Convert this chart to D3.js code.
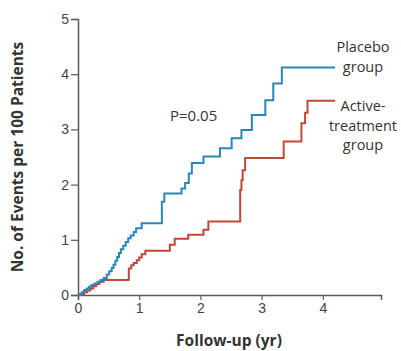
<!DOCTYPE html>
<html>
<head>
<meta charset="utf-8">
<script src="https://cdn.jsdelivr.net/npm/d3@7"></script>
<style>
  body { margin: 0; background: #fff; }
  svg { font-family: "Open Sans", "Noto Sans", sans-serif; }
</style>
</head>
<body>
<div id="chart"></div>
<script>
// step points: time (yr) and cumulative events per 100 patients
const placeboTime = [0, 0.03, 0.06, 0.10, 0.14, 0.18, 0.22, 0.27, 0.32, 0.37, 0.42, 0.47, 0.51, 0.55, 0.58, 0.61, 0.64, 0.67, 0.70, 0.74, 0.78, 0.82, 0.86, 0.91, 0.95, 1.04, 1.37, 1.41, 1.69, 1.75, 1.81, 1.86, 2.05, 2.32, 2.51, 2.67, 2.84, 3.06, 3.19, 3.33, 4.20];
const placeboValue = [0, 0.02, 0.05, 0.09, 0.12, 0.15, 0.18, 0.21, 0.24, 0.27, 0.31, 0.37, 0.43, 0.49, 0.55, 0.62, 0.69, 0.76, 0.83, 0.89, 0.96, 1.03, 1.08, 1.14, 1.21, 1.30, 1.69, 1.84, 1.93, 2.03, 2.20, 2.39, 2.51, 2.66, 2.84, 2.99, 3.26, 3.53, 3.83, 4.12, 4.12];

const activeTime = [0, 0.05, 0.10, 0.15, 0.20, 0.25, 0.30, 0.35, 0.42, 0.83, 0.87, 0.91, 0.96, 1.00, 1.04, 1.10, 1.50, 1.58, 1.80, 2.05, 2.13, 2.65, 2.67, 2.69, 2.73, 3.36, 3.65, 3.71, 3.75, 4.20];
const activeValue = [0, 0.02, 0.05, 0.08, 0.12, 0.16, 0.20, 0.24, 0.27, 0.48, 0.54, 0.58, 0.63, 0.68, 0.74, 0.80, 0.91, 1.02, 1.09, 1.18, 1.33, 1.90, 2.08, 2.26, 2.48, 2.78, 3.11, 3.30, 3.52, 3.52];

const xTicks = [0, 1, 2, 3, 4];
const yTicks = [0, 1, 2, 3, 4, 5];

const width = 401, height = 351;
const margin = { top: 19, right: 20, bottom: 56, left: 78 };

const svg = d3.select('#chart')
  .append('svg')
  .attr('width', width)
  .attr('height', height);

const x = d3.scaleLinear().domain([0, 4.95]).range([margin.left, 381]);
const y = d3.scaleLinear().domain([0, 5]).range([height - margin.bottom, margin.top]);

const axisColor = '#5a5a5a';

const xAxis = svg.append('g')
  .attr('transform', `translate(0,${y(0)})`)
  .call(d3.axisBottom(x).tickValues(xTicks).tickSize(5).tickPadding(3).tickFormat(d3.format('d')));

const yAxis = svg.append('g')
  .attr('transform', `translate(${x(0)},0)`)
  .call(d3.axisLeft(y).tickValues(yTicks).tickSize(7).tickPadding(2).tickFormat(d3.format('d')));

[xAxis, yAxis].forEach(g => {
  g.select('.domain').attr('stroke', axisColor).attr('stroke-width', 1.5);
  g.selectAll('.tick line').attr('stroke', axisColor).attr('stroke-width', 1.2);
  g.selectAll('.tick text').attr('fill', '#444').style('font-size', '14px');
});

// curves
const line = d3.line()
  .x(d => x(d[0]))
  .y(d => y(d[1]))
  .curve(d3.curveStepAfter);

const series = [
  { time: activeTime, value: activeValue, color: '#c0473a' },
  { time: placeboTime, value: placeboValue, color: '#2a86b8' }
];

series.forEach(s => {
  svg.append('path')
    .datum(s.time.map((t, i) => [t, s.value[i]]))
    .attr('fill', 'none')
    .attr('stroke', s.color)
    .attr('stroke-width', 2)
    .attr('d', line);
});

// axis titles
svg.append('text')
  .attr('x', 229)
  .attr('y', 346)
  .attr('text-anchor', 'middle')
  .style('font-size', '15.5px')
  .style('font-weight', 'bold')
  .attr('fill', '#333')
  .text('Follow-up (yr)');

svg.append('text')
  .attr('transform', 'translate(23,157) rotate(-90)')
  .attr('text-anchor', 'middle')
  .style('font-size', '15.5px')
  .style('font-weight', 'bold')
  .attr('fill', '#333')
  .text('No. of Events per 100 Patients');

// labels, one text per line
const labels = [
  { lines: ['Placebo', 'group'], x: 363, y: 52 },
  { lines: ['Active-', 'treatment', 'group'], x: 363, y: 111 }
];

labels.forEach(l => {
  l.lines.forEach((s, i) => {
    svg.append('text')
      .attr('x', l.x)
      .attr('y', l.y + i * 19.5)
      .attr('text-anchor', 'middle')
      .style('font-size', '14.5px')
      .attr('fill', '#333')
      .text(s);
  });
});

svg.append('text')
  .attr('x', 170)
  .attr('y', 121)
  .style('font-size', '15px')
  .attr('fill', '#333')
  .text('P=0.05');
</script>
</body>
</html>
